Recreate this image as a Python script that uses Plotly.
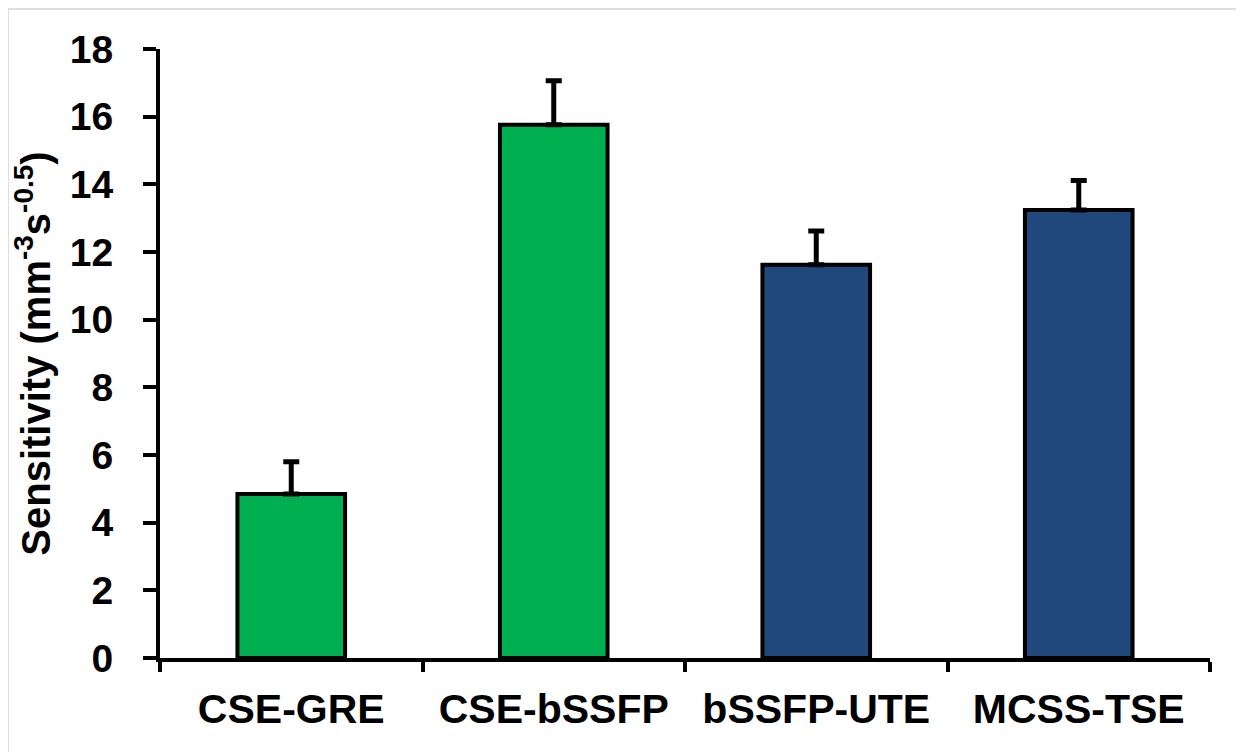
import plotly.graph_objects as go

categories = ["CSE-GRE", "CSE-bSSFP", "bSSFP-UTE", "MCSS-TSE"]
sensitivity = [4.85, 15.76, 11.62, 13.24]
error_up = [0.95, 1.3, 1.0, 0.87]
bar_colors = ["#00B050", "#00B050", "#1F497D", "#1F497D"]

# page body has an 8px margin, so the figure is 8px smaller than the window
W, H = 1236, 744
L, R, T, B = 152, 34, 41, 94

fig = go.Figure()
fig.add_trace(go.Bar(
    x=categories,
    y=sensitivity,
    marker=dict(color=bar_colors, line=dict(color="black", width=4)),
    error_y=dict(type="data", array=error_up, arrayminus=[0] * len(error_up),
                 symmetric=False, color="black", thickness=5, width=8),
    width=0.41,
))

font = "Liberation Sans, Arial, sans-serif"
fig.update_layout(
    width=W, height=H,
    margin=dict(l=L, r=R, t=T, b=B, pad=0),
    paper_bgcolor="white", plot_bgcolor="white",
    showlegend=False,
    font=dict(family=font, color="black"),
    xaxis=dict(
        showline=True, linecolor="black", linewidth=4,
        ticks="outside", tickson="boundaries", ticklen=10, tickwidth=4, tickcolor="black",
        tickfont=dict(size=41, family=font, color="black", weight="bold"),
        ticklabelstandoff=12,
        showgrid=False, zeroline=False,
    ),
    yaxis=dict(
        range=[0, 18], dtick=2,
        showline=True, linecolor="black", linewidth=4,
        ticks="outside", ticklen=13, tickwidth=4, tickcolor="black",
        tickfont=dict(size=39, family=font, color="black", weight="bold"),
        ticklabelstandoff=22,
        showgrid=False, zeroline=False,
        title=dict(text="<b>Sensitivity (mm<sup>-3</sup>s<sup>-0.5</sup>)</b>",
                   font=dict(size=40, family=font, color="black"), standoff=12),
    ),
)

# thin light-gray frame (only top and left edges visible in the window)
pw, ph = W - L - R, H - T - B
fig.add_shape(type="rect", xref="paper", yref="paper",
              x0=(0 - L) / pw, x1=1.2,
              y0=-0.5, y1=1 + (T - 1) / ph,
              line=dict(color="#d4d4d4", width=1.5), fillcolor="rgba(0,0,0,0)", layer="below")

fig.write_html("out.html")
